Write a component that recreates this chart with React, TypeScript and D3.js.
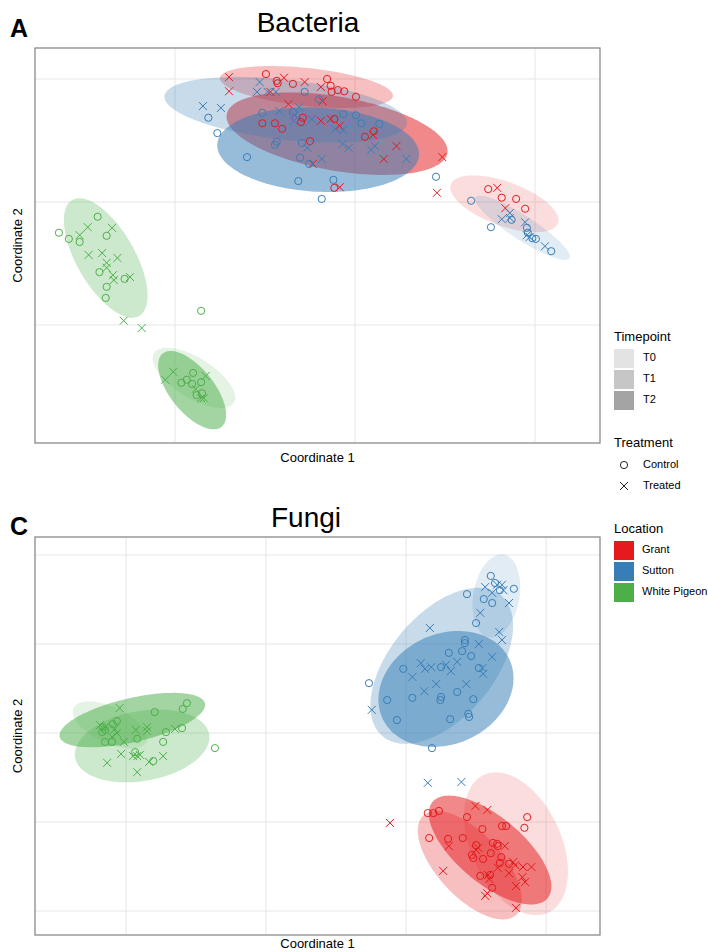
import React from 'react';
import * as d3 from 'd3';

// legend / grouping values
const locations = ['Grant', 'Sutton', 'White Pigeon'];
const timepoints = ['T0', 'T1', 'T2'];
const treatments = ['Control', 'Treated'];

// ---- Bacteria (MDS coordinates) ----
const bactGrantControl = [
  [-0.099, 0.208], [-0.087, 0.197], [-0.086, 0.193], [-0.069, 0.192], [-0.031, 0.2], [-0.027, 0.189],
  [-0.026, 0.179], [-0.019, 0.182], [-0.012, 0.18], [0.001, 0.171], [-0.103, 0.128], [-0.089, 0.128],
  [-0.081, 0.119], [-0.06, 0.13], [-0.058, 0.137], [-0.023, 0.135], [0.011, 0.106], [0.021, 0.115],
  [-0.05, 0.099], [-0.023, 0.023], [0.148, 0.021], [0.163, 0.007], [0.179, 0.005], [0.189, -0.011],
];
const bactGrantTreated = [
  [-0.14, 0.203], [-0.14, 0.18], [-0.079, 0.202], [-0.056, 0.195], [-0.038, 0.187], [-0.094, 0.179],
  [-0.036, 0.164], [-0.074, 0.159], [-0.038, 0.132], [-0.027, 0.135], [-0.017, 0.124], [0.02, 0.109],
  [0.046, 0.091], [0.032, 0.07], [-0.047, 0.062], [-0.017, 0.024], [0.097, 0.073], [0.091, 0.015],
  [0.158, 0.023], [0.167, -0.01],
];
const bactSuttonControl = [
  [-0.163, 0.137], [-0.153, 0.112], [-0.056, 0.179], [-0.04, 0.167], [-0.103, 0.145], [-0.069, 0.146],
  [-0.013, 0.143], [0.001, 0.141], [0.007, 0.128], [0.027, 0.127], [-0.087, 0.098], [-0.089, 0.093],
  [-0.059, 0.096], [-0.12, 0.073], [-0.061, 0.072], [-0.051, 0.062], [-0.063, 0.034], [-0.024, 0.036],
  [-0.037, 0.005], [0.09, 0.041], [0.129, 0.002], [0.151, -0.041], [0.174, -0.029], [0.191, -0.042],
  [0.192, -0.05], [0.197, -0.059], [0.201, -0.06], [0.218, -0.08],
];
const bactSuttonTreated = [
  [-0.106, 0.195], [-0.109, 0.179], [-0.097, 0.179], [-0.088, 0.179], [-0.169, 0.156], [-0.149, 0.153],
  [-0.084, 0.148], [-0.062, 0.154], [-0.067, 0.141], [-0.048, 0.135], [-0.068, 0.132], [-0.022, 0.119],
  [-0.013, 0.117], [-0.053, 0.088], [-0.014, 0.094], [-0.007, 0.088], [0.022, 0.091], [0.018, 0.085],
  [-0.037, 0.07], [0.057, 0.07], [0.163, -0.028], [0.172, -0.018], [0.189, -0.033], [0.191, -0.054],
  [0.194, -0.057], [0.211, -0.072], [0.172, -0.026],
];
const bactPigeonControl = [
  [-0.329, -0.05], [-0.318, -0.06], [-0.306, -0.065], [-0.286, -0.024], [-0.276, -0.055], [-0.284, -0.114],
  [-0.276, -0.138], [-0.277, -0.156], [-0.256, -0.125], [-0.171, -0.177], [-0.193, -0.294], [-0.187, -0.289],
  [-0.18, -0.278], [-0.181, -0.296], [-0.171, -0.293], [-0.176, -0.314], [-0.17, -0.311],
];
const bactPigeonTreated = [
  [-0.306, -0.054], [-0.297, -0.041], [-0.27, -0.042], [-0.296, -0.086], [-0.281, -0.083], [-0.276, -0.099],
  [-0.264, -0.091], [-0.276, -0.107], [-0.269, -0.119], [-0.268, -0.127], [-0.25, -0.122], [-0.257, -0.193],
  [-0.237, -0.205], [-0.211, -0.289], [-0.202, -0.276], [-0.166, -0.283], [-0.177, -0.304], [-0.171, -0.319],
  [-0.168, -0.319],
];
// ellipse: location, timepoint, centre x/y, half-axis vectors u and v
const bactEllipses = [
  ['Grant', 'T0', 0.166, -0.003, 0.0595, -0.0317, -0.0084, -0.0336],
  ['Grant', 'T1', -0.054, 0.187, 0.0961, -0.0148, -0.0022, -0.0307],
  ['Grant', 'T2', -0.02, 0.111, 0.1226, -0.0316, -0.0071, -0.0592],
  ['Sutton', 'T0', 0.186, -0.042, 0.0522, -0.0496, -0.0073, -0.0164],
  ['Sutton', 'T1', -0.077, 0.15, 0.1347, -0.0225, -0.0038, -0.0485],
  ['Sutton', 'T2', -0.041, 0.085, 0.1121, -0.0086, -0.0024, -0.0682],
  ['White Pigeon', 'T0', -0.179, -0.286, 0.0443, -0.0405, -0.0118, -0.0276],
  ['White Pigeon', 'T1', -0.277, -0.091, 0.0372, -0.0943, -0.0279, -0.0236],
  ['White Pigeon', 'T2', -0.181, -0.306, 0.0326, -0.0597, -0.0191, -0.0223],
];

// ---- Fungi ----
const fungGrantControl = [
  [0.031, -0.18], [0.039, -0.18], [0.047, -0.175], [0.087, -0.189], [0.173, -0.189], [0.169, -0.213],
  [0.137, -0.209], [0.143, -0.209], [0.109, -0.216], [0.033, -0.236], [0.06, -0.238], [0.081, -0.236],
  [0.1, -0.252], [0.124, -0.247], [0.13, -0.249], [0.131, -0.254], [0.121, -0.27], [0.094, -0.274],
  [0.096, -0.281], [0.11, -0.283], [0.136, -0.279], [0.134, -0.292], [0.147, -0.294], [0.106, -0.321],
  [0.12, -0.319], [0.123, -0.348],
];
const fungGrantTreated = [
  [-0.023, -0.202], [0.099, -0.164], [0.116, -0.173], [0.141, -0.254], [0.061, -0.254], [0.103, -0.258],
  [0.1, -0.263], [0.053, -0.31], [0.131, -0.303], [0.153, -0.29], [0.156, -0.297], [0.167, -0.301],
  [0.179, -0.301], [0.147, -0.315], [0.117, -0.319], [0.119, -0.328], [0.166, -0.324], [0.17, -0.335],
  [0.157, -0.344], [0.116, -0.36], [0.113, -0.366], [0.157, -0.393],
];
const fungSuttonControl = [
  [0.121, 0.353], [0.127, 0.337], [0.154, 0.324], [0.087, 0.312], [0.111, 0.301], [0.123, 0.292],
  [0.134, 0.321], [0.1, 0.247], [0.084, 0.209], [0.084, 0.202], [0.08, 0.184], [0.061, 0.18],
  [0.093, 0.173], [-0.004, 0.144], [0.05, 0.148], [0.104, 0.146], [-0.053, 0.112], [-0.027, 0.074],
  [0.009, 0.079], [0.05, 0.081], [0.049, 0.074], [0.073, 0.092], [0.096, 0.076], [-0.013, 0.029],
  [0.063, 0.031], [0.089, 0.043], [0.09, 0.036], [0.037, -0.034],
];
const fungSuttonTreated = [
  [0.113, 0.328], [0.13, 0.333], [0.137, 0.333], [0.139, 0.321], [0.123, 0.315], [0.147, 0.292],
  [0.106, 0.27], [0.133, 0.227], [0.137, 0.209], [0.034, 0.236], [0.104, 0.2], [0.123, 0.171],
  [0.073, 0.16], [0.021, 0.157], [0.027, 0.144], [0.036, 0.148], [0.057, 0.153], [0.064, 0.139],
  [0.009, 0.126], [0.043, 0.11], [0.086, 0.11], [0.109, 0.146], [0.11, 0.133], [0.026, 0.094],
  [-0.049, 0.052], [0.031, -0.112], [0.079, -0.11],
];
const fungPigeonControl = [
  [-0.313, 0.067], [-0.319, 0.054], [-0.359, 0.047], [-0.413, 0.027], [-0.419, 0.02], [-0.433, 0.013],
  [-0.43, 0.007], [-0.434, 0.002], [-0.32, 0.011], [-0.343, 0.002], [-0.384, -0.013], [-0.347, -0.02],
  [-0.43, -0.02], [-0.42, -0.02], [-0.387, -0.043], [-0.361, -0.063], [-0.273, -0.034],
];
const fungPigeonTreated = [
  [-0.409, 0.056], [-0.437, 0.018], [-0.43, 0.013], [-0.416, 0.009], [-0.413, 0.0], [-0.386, 0.007],
  [-0.37, 0.013], [-0.37, 0.004], [-0.33, 0.009], [-0.403, -0.02], [-0.407, -0.047], [-0.39, -0.052],
  [-0.384, -0.052], [-0.38, -0.049], [-0.347, -0.052], [-0.367, -0.065], [-0.427, -0.067], [-0.384, -0.088],
  [-0.42, -0.009],
];
const fungEllipses = [
  ['Grant', 'T0', 0.157, -0.249, 0.0459, -0.1548, -0.0583, -0.0427],
  ['Grant', 'T1', 0.091, -0.297, 0.0663, -0.1117, -0.0334, -0.049],
  ['Grant', 'T2', 0.12, -0.263, 0.0821, -0.1083, -0.0303, -0.0568],
  ['Sutton', 'T0', 0.129, 0.308, -0.0104, -0.0929, -0.0324, 0.009],
  ['Sutton', 'T1', 0.051, 0.151, 0.0845, 0.1584, 0.0569, -0.0751],
  ['Sutton', 'T2', 0.057, 0.099, 0.0906, 0.0665, 0.0332, -0.112],
  ['White Pigeon', 'T0', -0.423, 0.018, 0.0519, -0.038, -0.0109, -0.0367],
  ['White Pigeon', 'T1', -0.377, -0.029, 0.0957, 0.0265, 0.0087, -0.0775],
  ['White Pigeon', 'T2', -0.391, 0.029, 0.1037, 0.0377, 0.0071, -0.0482],
];

const bactGrid = { x: [-0.2, 0, 0.2], y: [-0.2, 0, 0.2] };
const fungGrid = { x: [-0.4, -0.2, 0, 0.2], y: [-0.4, -0.2, 0, 0.2, 0.4] };

const FONT = '"Liberation Sans", Arial, Helvetica, sans-serif';
const color = d3.scaleOrdinal<string, string>().domain(locations).range(['#e41a1c', '#377eb8', '#4daf4a']);
const alpha = d3.scaleOrdinal<string, number>().domain(timepoints).range([0.15, 0.28, 0.52]);
const legendGrey = ['#e3e3e3', '#c6c6c6', '#a4a4a4'];

const crossPath = (s: number) => `M${-s},${-s}L${s},${s}M${-s},${s}L${s},${-s}`;

const Panel = ({ cfg }: any) => {
  const x = d3.scaleLinear().domain(cfg.xDomain).range([cfg.left, cfg.right]);
  const y = d3.scaleLinear().domain(cfg.yDomain).range([cfg.bottom, cfg.top]);
  const ring = d3.range(0, 2 * Math.PI + 0.001, Math.PI / 72);
  const line = d3.line<number>();

  const ellipsePath = (e: any[]) => {
    const [, , cx, cy, ux, uy, vx, vy] = e;
    return line.x(t => x(cx + ux * Math.cos(t) + vx * Math.sin(t)))
      .y(t => y(cy + uy * Math.cos(t) + vy * Math.sin(t)))(ring) + 'Z';
  };

  const midX = (cfg.left + cfg.right) / 2;
  const midY = (cfg.top + cfg.bottom) / 2;

  return (
    <g>
      <text x={cfg.letterX} y={cfg.letterY} fontFamily={FONT} fontSize={25} fontWeight="bold">{cfg.letter}</text>
      <text x={cfg.titleX} y={cfg.titleY} fontFamily={FONT} fontSize={28} textAnchor="middle">{cfg.title}</text>
      <defs>
        <clipPath id={`clip-${cfg.letter}`}>
          <rect x={cfg.left} y={cfg.top} width={cfg.right - cfg.left} height={cfg.bottom - cfg.top} />
        </clipPath>
      </defs>
      <rect x={cfg.left} y={cfg.top} width={cfg.right - cfg.left} height={cfg.bottom - cfg.top} fill="#fff" />
      {cfg.grid.x.map((v: number) => (
        <line key={'gx' + v} x1={x(v)} x2={x(v)} y1={cfg.top} y2={cfg.bottom} stroke="#e6e6e6" strokeWidth={1} />
      ))}
      {cfg.grid.y.map((v: number) => (
        <line key={'gy' + v} x1={cfg.left} x2={cfg.right} y1={y(v)} y2={y(v)} stroke="#e6e6e6" strokeWidth={1} />
      ))}
      <g clipPath={`url(#clip-${cfg.letter})`}>
        {cfg.ellipses.map((e: any[], i: number) => (
          <path key={'e' + i} d={ellipsePath(e)} fill={color(e[0])} fillOpacity={alpha(e[1])} stroke="none" />
        ))}
        {cfg.groups.map((g: any, gi: number) =>
          g.values.map((d: number[], i: number) =>
            g.trt === 'Control' ? (
              <circle key={`p${gi}-${i}`} cx={x(d[0])} cy={y(d[1])} r={3.6} fill="none"
                stroke={color(g.loc)} strokeWidth={1} />
            ) : (
              <path key={`p${gi}-${i}`} transform={`translate(${x(d[0])},${y(d[1])})`} d={crossPath(4)}
                fill="none" stroke={color(g.loc)} strokeWidth={1} />
            )
          )
        )}
      </g>
      <rect x={cfg.left} y={cfg.top} width={cfg.right - cfg.left} height={cfg.bottom - cfg.top}
        fill="none" stroke="#808080" strokeWidth={1.2} />
      <text x={midX} y={cfg.xLabelY} fontFamily={FONT} fontSize={13} textAnchor="middle">Coordinate 1</text>
      <text transform={`translate(${cfg.yLabelX},${midY}) rotate(-90)`} fontFamily={FONT} fontSize={13}
        textAnchor="middle">Coordinate 2</text>
    </g>
  );
};

const Legend = () => {
  const lx = 614;
  return (
    <g fontFamily={FONT}>
      <text x={lx} y={341} fontSize={13}>Timepoint</text>
      {timepoints.map((t, i) => (
        <g key={t}>
          <rect x={lx} y={349 + i * 21} width={20} height={19} fill={legendGrey[i]} />
          <text x={643} y={358.5 + i * 21} fontSize={11} dominantBaseline="middle">{t}</text>
        </g>
      ))}
      <text x={lx} y={447} fontSize={13}>Treatment</text>
      {treatments.map((t, i) => (
        <g key={t}>
          {t === 'Control' ? (
            <circle cx={624} cy={465 + i * 21} r={3.6} fill="none" stroke="#222" strokeWidth={1} />
          ) : (
            <path transform={`translate(624,${465 + i * 21})`} d={crossPath(4)} stroke="#222" strokeWidth={1} fill="none" />
          )}
          <text x={643} y={465 + i * 21} fontSize={11} dominantBaseline="middle">{t}</text>
        </g>
      ))}
      <text x={lx} y={533} fontSize={13}>Location</text>
      {locations.map((l, i) => (
        <g key={l}>
          <rect x={lx} y={541 + i * 21} width={20} height={19} fill={color(l)} />
          <text x={642} y={550.5 + i * 21} fontSize={11} dominantBaseline="middle">{l}</text>
        </g>
      ))}
    </g>
  );
};

const bacteria = {
  letter: 'A', title: 'Bacteria', letterX: 10, letterY: 37, titleX: 308, titleY: 32,
  left: 35, right: 600, top: 48, bottom: 443, xLabelY: 462, yLabelX: 22,
  xDomain: [-0.3556, 0.2722], yDomain: [-0.3919, 0.2504], grid: bactGrid,
  ellipses: bactEllipses,
  groups: [
    { loc: 'Grant', trt: 'Control', values: bactGrantControl },
    { loc: 'Grant', trt: 'Treated', values: bactGrantTreated },
    { loc: 'Sutton', trt: 'Control', values: bactSuttonControl },
    { loc: 'Sutton', trt: 'Treated', values: bactSuttonTreated },
    { loc: 'White Pigeon', trt: 'Control', values: bactPigeonControl },
    { loc: 'White Pigeon', trt: 'Treated', values: bactPigeonTreated },
  ],
};

const fungi = {
  letter: 'C', title: 'Fungi', letterX: 10, letterY: 535, titleX: 306, titleY: 527,
  left: 35, right: 600, top: 537, bottom: 935, xLabelY: 948, yLabelX: 22,
  xDomain: [-0.53, 0.277], yDomain: [-0.4539, 0.4404], grid: fungGrid,
  ellipses: fungEllipses,
  groups: [
    { loc: 'Grant', trt: 'Control', values: fungGrantControl },
    { loc: 'Grant', trt: 'Treated', values: fungGrantTreated },
    { loc: 'Sutton', trt: 'Control', values: fungSuttonControl },
    { loc: 'Sutton', trt: 'Treated', values: fungSuttonTreated },
    { loc: 'White Pigeon', trt: 'Control', values: fungPigeonControl },
    { loc: 'White Pigeon', trt: 'Treated', values: fungPigeonTreated },
  ],
};

export default function App() {
  return (
    <svg width={708} height={952} style={{ position: 'absolute', left: 0, top: 0, background: '#fff' }}>
      <Panel cfg={bacteria} />
      <Panel cfg={fungi} />
      <Legend />
    </svg>
  );
}
